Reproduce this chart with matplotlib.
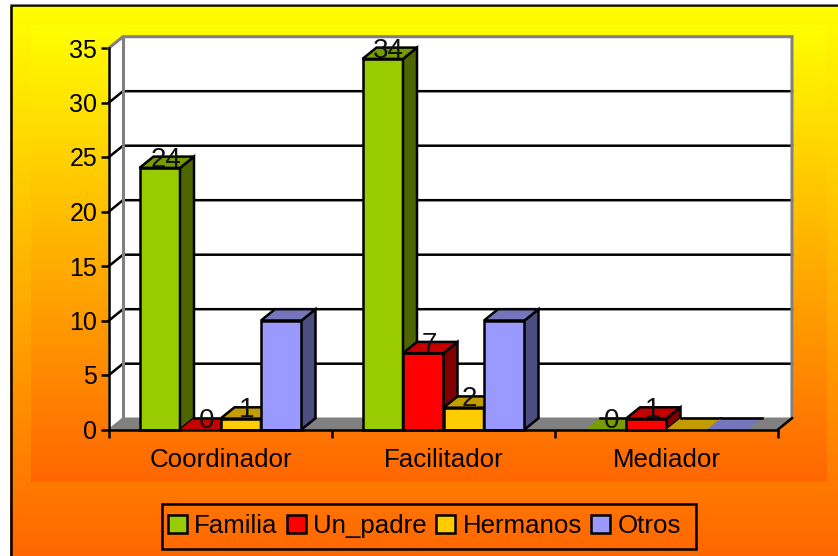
import numpy as np
import matplotlib
matplotlib.use('Agg')
import matplotlib.pyplot as plt
from matplotlib.colors import LinearSegmentedColormap
from matplotlib.patches import Rectangle, Patch

plt.rcParams['font.family'] = ['Liberation Sans', 'DejaVu Sans']

# -----------------------------
# Data
# -----------------------------
categories = ['Coordinador', 'Facilitador', 'Mediador']
series_names = ['Familia', 'Un_padre', 'Hermanos', 'Otros']
familia = [24, 34, 0]
un_padre = [0, 7, 1]
hermanos = [1, 2, None]
otros = [10, 10, None]
labelled_series = ['Familia', 'Un_padre', 'Hermanos']  # Otros has no value labels
y_ticks = [0, 5, 10, 15, 20, 25, 30, 35]

front_colors = ['#99cc00', '#ff0000', '#ffcc00', '#9999ff']
top_colors = ['#769c00', '#c40000', '#c49c00', '#7676bd']
side_colors = ['#4d6600', '#800000', '#806600', '#4d4d80']

W, H = 838, 556
FS = 18.6
LW = 1.8
fig = plt.figure(figsize=(W / 100, H / 100), dpi=100, facecolor='white')

# -----------------------------
# Gradient background (pixel layout)
# -----------------------------
bg = fig.add_axes([0, 0, 1, 1], zorder=0)
bg.axis('off')
cmap = LinearSegmentedColormap.from_list('grad', ['#ffff00', '#ffb000', '#ff6600'])
grad = np.linspace(0, 1, 256).reshape(-1, 1)
bg.imshow(grad, cmap=cmap, extent=[10, W + 5, H + 2, 5], aspect='auto')
bg.imshow(grad, cmap=cmap, extent=[31, 826, 482, 25], aspect='auto')
bg.set_xlim(0, W)
bg.set_ylim(H, 0)
bg.add_patch(Rectangle((10.5, 5), W, H, fill=False, ec='black', lw=LW))
bg.plot([10, W], [3.6, 3.6], color='#808080', lw=0.8)
# legend box sits off-centre around its entries, so it is drawn separately
bg.add_patch(Rectangle((161.5, 503.5), 534, 45, fill=False, ec='black', lw=LW))

# -----------------------------
# Plot axes: the front plane of the fake 3D box
# -----------------------------
left, right, y0, y35 = 109, 778, 429.5, 48
ax = fig.add_axes([left / W, 1 - y0 / H, (right - left) / W, (y0 - y35) / H], zorder=1)
ax.set_xlim(0, 3)
ax.set_ylim(0, 35)
ax.patch.set_visible(False)

px_x = 3 / (right - left)
px_y = 35 / (y0 - y35)
dx = 14 * px_x
dy = 11.3 * px_y

# walls and floor
ax.fill([0, dx, dx, 0], [0, dy, 35 + dy, 35], color='white', zorder=1, clip_on=False)
ax.fill([dx, 3 + dx, 3 + dx, dx], [dy, dy, 35 + dy, 35 + dy], color='white', zorder=1, clip_on=False)
ax.fill([0, dx, 3 + dx, 3], [0, dy, dy, 0], color='#808080', zorder=1, clip_on=False)

for v in y_ticks[1:-1]:
    ax.plot([0, dx, 3 + dx], [v, v + dy, v + dy], color='black', lw=LW, zorder=2,
            clip_on=False, solid_joinstyle='miter')
ax.plot([0, dx, 3 + dx, 3 + dx], [35, 35 + dy, 35 + dy, dy], color='#808080', lw=2.2, zorder=2,
        clip_on=False, solid_joinstyle='miter')
ax.plot([dx, dx], [dy, 35 + dy], color='#808080', lw=2.2, zorder=2, clip_on=False)
ax.plot([0, dx], [0, dy], color='#808080', lw=1, zorder=2, clip_on=False)
ax.plot([3, 3 + dx], [0, dy], color='black', lw=LW, zorder=2, clip_on=False)

# -----------------------------
# Bars
# -----------------------------
bar_w = 40.5 * px_x
margin = (1 - 4 * bar_w) / 2
values = [familia, un_padre, hermanos, otros]
z = 3
for g in range(len(categories)):
    for s, vals in enumerate(values):
        v = vals[g]
        h = 0 if v is None else v
        x0 = g + margin + s * bar_w
        x1 = x0 + bar_w
        if h > 0:
            ax.bar(x0, h, bar_w, align='edge', color=front_colors[s], edgecolor='black',
                   linewidth=LW, zorder=z, clip_on=False)
            ax.fill([x1, x1 + dx, x1 + dx, x1], [0, dy, h + dy, h], facecolor=side_colors[s],
                    edgecolor='black', lw=LW, zorder=z, clip_on=False, joinstyle='miter')
        ax.fill([x0, x1, x1 + dx, x0 + dx], [h, h, h + dy, h + dy], facecolor=top_colors[s],
                edgecolor='black' if h > 0 else 'none', lw=LW, zorder=z, clip_on=False,
                joinstyle='miter')
        if h == 0:
            ax.plot([x0 + dx, x1 + dx], [dy, dy], color='black', lw=LW, zorder=z, clip_on=False)
        z += 1
        if v is not None and series_names[s] in labelled_series:
            ax.annotate(str(v), (x0 + bar_w / 2 + dx / 2 - 1 * px_x, h), xytext=(0, 1),
                        textcoords='offset points', ha='center', va='baseline', fontsize=20,
                        color='#111111', zorder=100, annotation_clip=False)

# -----------------------------
# Axes dressing
# -----------------------------
for name in ['top', 'right']:
    ax.spines[name].set_visible(False)
for name in ['left', 'bottom']:
    ax.spines[name].set_linewidth(LW)
    ax.spines[name].set_zorder(90)
ax.set_yticks(y_ticks)
ax.tick_params(axis='y', length=6, width=LW, pad=2.5, labelsize=18)
ax.set_xticks([0, 1, 2, 3])
ax.set_xticklabels([])
ax.set_xticks([0.5, 1.5, 2.5], minor=True)
ax.set_xticklabels(categories, minor=True, fontsize=FS)
ax.tick_params(axis='x', which='major', length=6, width=LW)
ax.tick_params(axis='x', which='minor', length=0, pad=13)

handles = [Patch(facecolor=c, edgecolor='black', linewidth=LW) for c in front_colors]
leg = fig.legend(handles, series_names, ncols=4, fontsize=FS, loc='center',
                 bbox_to_anchor=(424.5 / W, 1 - 526 / H), frameon=False,
                 handlelength=0.72, handleheight=0.72, handletextpad=0.3, columnspacing=0.36,
                 borderpad=0.42, borderaxespad=0)

fig.savefig('out.png', dpi=100)
